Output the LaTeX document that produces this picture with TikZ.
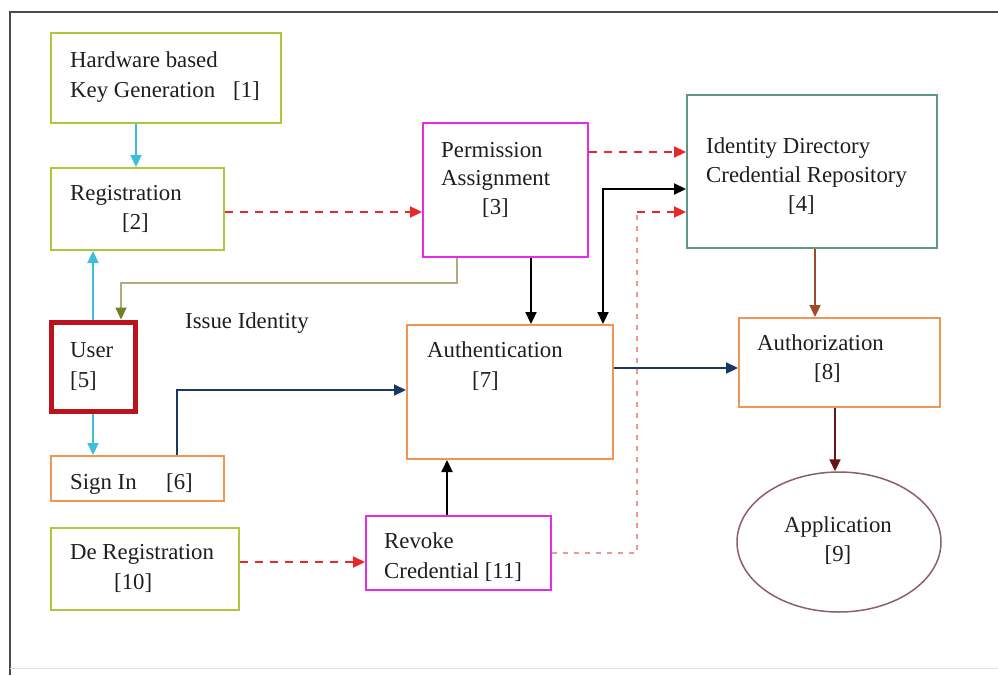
\documentclass[tikz,border=0pt]{standalone}
\usepackage{fontspec}
\setmainfont{Liberation Serif}
\usetikzlibrary{arrows.meta,shapes.geometric}
\definecolor{gbox}{RGB}{172,200,60}
\definecolor{mbox}{RGB}{228,45,228}
\definecolor{tbox}{RGB}{95,150,135}
\definecolor{obox}{RGB}{240,150,85}
\definecolor{ubox}{RGB}{185,20,30}
\definecolor{cyanA}{RGB}{60,190,220}
\definecolor{redA}{RGB}{230,40,40}
\definecolor{navyA}{RGB}{25,55,100}
\definecolor{brownA}{RGB}{160,75,40}
\definecolor{maroonA}{RGB}{105,20,20}
\definecolor{oliveL}{RGB}{178,172,125}
\definecolor{oliveT}{RGB}{110,130,40}
\definecolor{pinkA}{RGB}{240,150,150}
\definecolor{ellA}{RGB}{140,95,105}
\definecolor{txt}{RGB}{30,30,30}
\tikzset{
  box/.style={draw, rectangle, line width=2pt, inner sep=0pt, fill=white},
  lbl/.style={anchor=base west, inner sep=0pt, text=txt, font=\fontsize{22.8}{28}\selectfont},
  clbl/.style={anchor=base, inner sep=0pt, text=txt, font=\fontsize{22.8}{28}\selectfont},
  tip/.style={-{Triangle[length=12pt,width=11pt]}},
  conn/.style={line width=2.2pt},
}
\begin{document}
\begin{tikzpicture}[x=1pt,y=-1pt]
\useasboundingbox (0,0) rectangle (998,675);
% frame
\draw[line width=2pt, color=black!70] (10,675) -- (10,12) -- (998,12);
\draw[line width=1pt, color=black!12] (10,668) -- (998,668);

% boxes
\node[box, draw=gbox, minimum width=230, minimum height=90] (hw) at (166,78) {};
\node[box, draw=gbox, minimum width=173, minimum height=82] (reg) at (137.5,209) {};
\node[box, draw=mbox, minimum width=165, minimum height=134] (perm) at (505.5,190) {};
\node[box, draw=tbox, minimum width=250, minimum height=153] (ident) at (812,171.5) {};
\node[box, draw=ubox, line width=5pt, minimum width=84, minimum height=89] (user) at (93,366.5) {};
\node[box, draw=obox, minimum width=173, minimum height=45] (sign) at (137.5,478.5) {};
\node[box, draw=obox, minimum width=206, minimum height=134] (auth) at (510,392) {};
\node[box, draw=obox, minimum width=201, minimum height=89] (authz) at (839.5,362.5) {};
\node[draw=ellA, line width=1.5pt, ellipse, inner sep=0pt, minimum width=204, minimum height=140] (app) at (839,542) {};
\node[box, draw=gbox, minimum width=188, minimum height=82] (dereg) at (145,569) {};
\node[box, draw=mbox, minimum width=185, minimum height=74] (revoke) at (458.5,553) {};

% texts
\node[lbl] (hwa) at (70,67) {Hardware based};
\node[lbl] (hwb) at (70,97) {Key Generation};
\node[lbl] (hwc) at (233,97) {[1]};
\node[lbl] (rega) at (70,200) {Registration};
\node[lbl] (regb) at (122,229) {[2]};
\node[lbl] (perma) at (441,157) {Permission};
\node[lbl] (permb) at (441,185) {Assignment};
\node[lbl] (permc) at (482,214) {[3]};
\node[lbl] (identa) at (706,153) {Identity Directory};
\node[lbl] (identb) at (706,182) {Credential Repository};
\node[lbl] (identc) at (788,211) {[4]};
\node[lbl] (usera) at (70,357) {User};
\node[lbl] (userb) at (70,387) {[5]};
\node[lbl] (issue) at (185,328) {Issue Identity};
\node[lbl] (signa) at (70,489) {Sign In};
\node[lbl] (signb) at (166,489) {[6]};
\node[lbl] (autha) at (427,357) {Authentication};
\node[lbl] (authb) at (472,387) {[7]};
\node[lbl] (authza) at (757,350) {Authorization};
\node[lbl] (authzb) at (814,379) {[8]};
\node[clbl] (appa) at (838,532) {Application};
\node[clbl] (appb) at (838,561) {[9]};
\node[lbl] (derega) at (70,559) {De Registration};
\node[lbl] (deregb) at (114,589) {[10]};
\node[lbl] (revokea) at (384,548) {Revoke};
\node[lbl] (revokeb) at (384,578) {Credential [11]};

% helper coordinates
\coordinate (x136) at (136,0);
\coordinate (x457) at (457,0);
\coordinate (x531) at (531,0);
\coordinate (x603) at (603,0);
\coordinate (x177) at (177,0);
\coordinate (x815) at (815,0);
\coordinate (x835) at (835,0);
\coordinate (x447) at (447,0);
\coordinate (y152) at (0,152);
\coordinate (y189) at (0,189);
\coordinate (y212) at (0,212);
\coordinate (y368) at (0,368);
\coordinate (y390) at (0,390);
\coordinate (y562) at (0,562);
\coordinate (bendI) at (121,283);
\coordinate (bendR) at (637,212);

% connectors
\draw[conn, cyanA, tip] (hw.south -| x136) -- (reg.north -| x136);
\draw[conn, cyanA, tip] (user.north) -- (reg.south -| user.north);
\draw[conn, cyanA, tip] (user.south) -- (sign.north -| user.south);
\draw[conn, redA, dash pattern=on 8pt off 7pt, tip] (reg.east |- y212) -- (perm.west |- y212);
\draw[conn, redA, dash pattern=on 8pt off 7pt, tip] (perm.east |- y152) -- (ident.west |- y152);
\draw[conn, oliveL, -{Triangle[length=12pt,width=11pt,color=oliveT]}] (perm.south -| x457) |- (bendI) -- (user.north -| bendI);
\draw[conn, black, tip] (perm.south -| x531) -- (auth.north -| x531);
\draw[conn, black, {Triangle[length=12pt,width=11pt]}-{Triangle[length=12pt,width=11pt]}] (auth.north -| x603) |- (ident.west |- y189);
\draw[line width=1.3pt, pinkA, dash pattern=on 5pt off 6pt] (revoke.east) -| (bendR);
\draw[conn, redA, dash pattern=on 8pt off 7pt, tip] (bendR) -- (ident.west |- bendR);
\draw[conn, navyA, tip] (sign.north -| x177) |- (auth.west |- y390);
\draw[conn, navyA, tip] (auth.east |- y368) -- (authz.west |- y368);
\draw[conn, brownA, tip] (ident.south -| x815) -- (authz.north -| x815);
\draw[conn, maroonA, tip] (authz.south -| x835) -- (app.north -| x835);
\draw[conn, black, tip] (revoke.north -| x447) -- (auth.south -| x447);
\draw[conn, redA, dash pattern=on 8pt off 7pt, tip] (dereg.east |- y562) -- (revoke.west |- y562);
\end{tikzpicture}
\end{document}
